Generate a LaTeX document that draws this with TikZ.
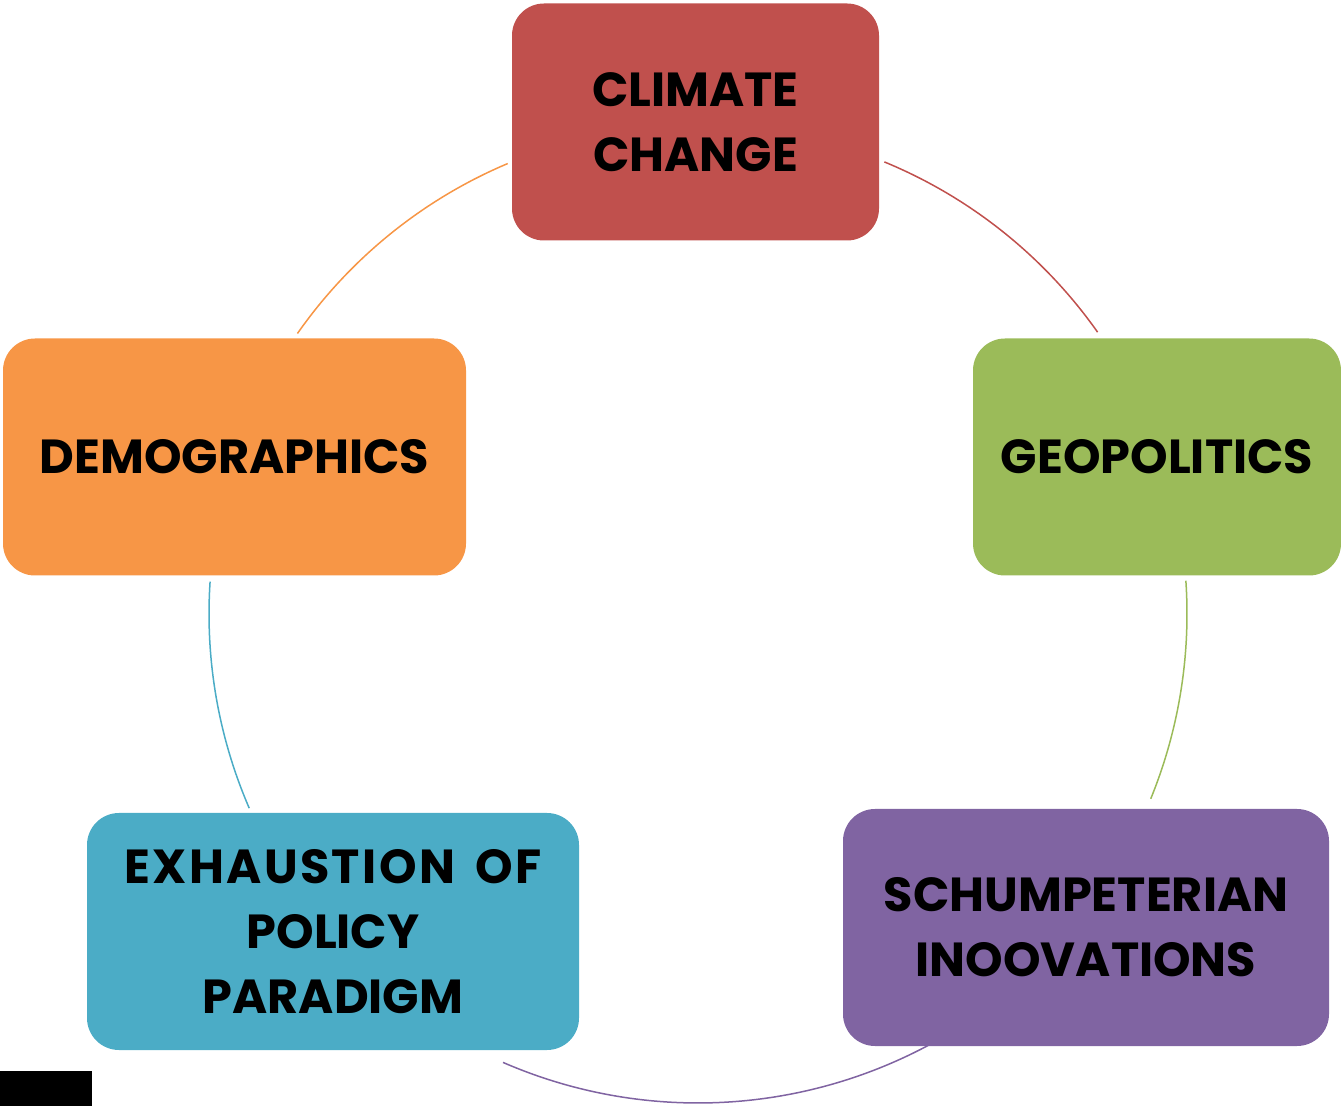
\documentclass[tikz,border=0pt]{standalone}
\usepackage{fontspec}
\setmainfont{Poppins}
\usepackage{tikz}
\definecolor{Red}{HTML}{C0504D}
\definecolor{Green}{HTML}{9BBB59}
\definecolor{Purple}{HTML}{8064A2}
\definecolor{Aqua}{HTML}{4BACC6}
\definecolor{Orange}{HTML}{F79646}

\begin{document}
\begin{tikzpicture}[x=1pt,y=1pt,
    driver/.style={rectangle,rounded corners=32pt,inner sep=0pt,align=center,text=black,
      font=\fontsize{47.8}{65}\selectfont\bfseries,minimum height=237pt},
    link/.style={line width=1.5pt}]
  \useasboundingbox(0,0)rectangle(1341,1106);
  \coordinate(ctr)at(698,492);
  % the five drivers round the cycle
  \node[driver,fill=Red,minimum width=367pt](climate)at(695.5,984){CLIMATE\\CHANGE};
  \node[driver,fill=Green,minimum width=368pt](geo)at(1157,649){GEOPOLITICS};
  \node[driver,fill=Purple,minimum width=486pt](schump)at(1086,178.5){SCHUMPETERIAN\\INOOVATIONS};
  \node[driver,fill=Aqua,minimum width=492pt](policy)at(333,174.5)
    {{\addfontfeature{LetterSpace=5}EXHAUSTION\hspace{8pt} OF}\\POLICY\\PARADIGM};
  \node[driver,fill=Orange,minimum width=463pt](demo)at(234.5,649){DEMOGRAPHICS};
  % arcs of the circle between neighbours
  \foreach \a/\b/\c in {67.6/35.2/Red,3.9/-22.2/Green,-61.5/-113.5/Purple,203.4/176.2/Aqua,145/112.9/Orange}
    \draw[link,\c]([shift={(\a:489)}]ctr)arc[start angle=\a,end angle=\b,radius=489];
  \fill[black](0,0)rectangle(92,35);
\end{tikzpicture}
\end{document}
